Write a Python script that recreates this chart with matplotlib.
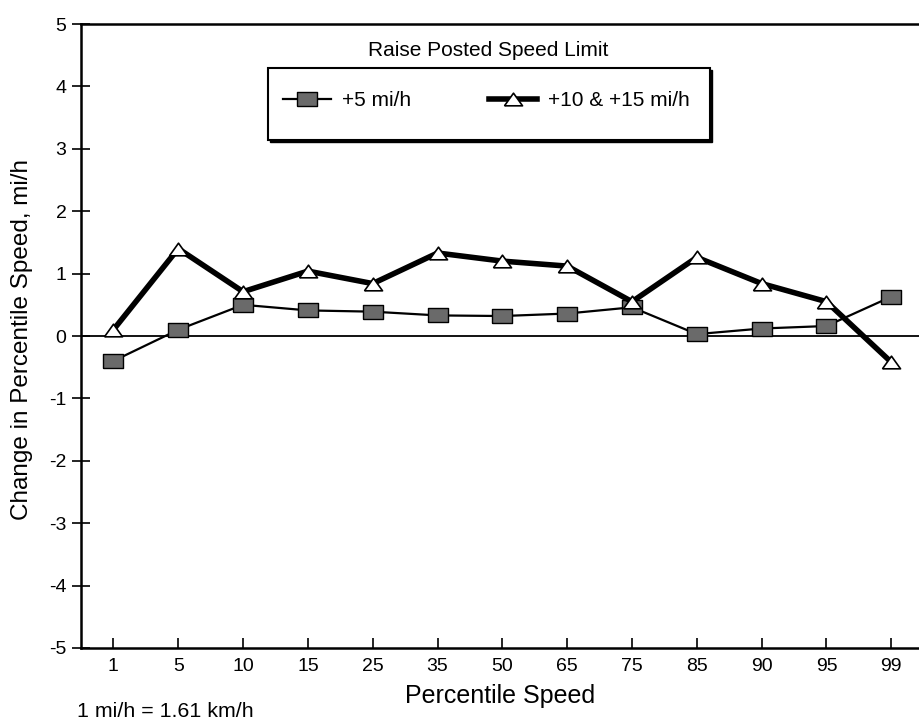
import numpy as np
import matplotlib
matplotlib.use("Agg")
import matplotlib.pyplot as plt
from matplotlib.patches import Rectangle

plt.rcParams['font.family'] = ['Liberation Sans', 'DejaVu Sans']

#------ data ------#
percentiles = ['1', '5', '10', '15', '25', '35', '50', '65', '75', '85', '90', '95', '99']
plus5 = [-0.40, 0.10, 0.50, 0.41, 0.39, 0.33, 0.32, 0.36, 0.46, 0.03, 0.12, 0.16, 0.63]
plus10_15 = [0.10, 1.40, 0.71, 1.04, 0.84, 1.33, 1.20, 1.12, 0.55, 1.26, 0.84, 0.55, -0.42]
yticks = [-5, -4, -3, -2, -1, 0, 1, 2, 3, 4, 5]

x = np.arange(len(percentiles))
W, H = 919, 721

fig = plt.figure(figsize=(9.19, 7.21), dpi=100)
ax = fig.add_axes([81 / W, 1 - 648 / H, 0.917, (648 - 24) / H])

# markers: flat rectangle and flat triangle
sq = [(-1, -0.72), (1, -0.72), (1, 0.72), (-1, 0.72), (-1, -0.72)]
tri = [(-1, -0.7), (1, -0.7), (0, 0.7), (-1, -0.7)]

ax.axhline(0, color='black', lw=1.3, zorder=1)
l1, = ax.plot(x, plus5, color='black', lw=1.6, marker=sq, markersize=15,
              markerfacecolor='#6a6a6a', markeredgecolor='black', markeredgewidth=1.0,
              zorder=3)
l2, = ax.plot(x, plus10_15, color='black', lw=4.0, marker=tri, markersize=13,
              markerfacecolor='white', markeredgecolor='black', markeredgewidth=1.2,
              zorder=4)

ax.set_xlim(-0.5, 12.5)
ax.set_ylim(-5, 5)
ax.set_xticks(x)
ax.set_xticklabels(percentiles, fontsize=14)
ax.set_yticks(yticks)
ax.set_yticklabels([str(v) for v in yticks], fontsize=14)
ax.tick_params(axis='x', direction='in', length=7, width=1.2, pad=7)
ax.tick_params(axis='y', direction='inout', length=13, width=1.2, pad=4)

for s in ['left', 'bottom', 'top']:
    ax.spines[s].set_linewidth(1.8)
ax.spines['right'].set_visible(False)

# axis titles
fig.text(500 / W, 1 - 703 / H, 'Percentile Speed', fontsize=18, ha='center', va='baseline')
fig.text(22 / W, 1 - 340 / H, 'Change in Percentile Speed, mi/h', fontsize=17.5,
         ha='center', va='center', rotation=90)

# legend box with title above it
box = Rectangle((268 / W, 1 - 140 / H), (710 - 268) / W, (140 - 68) / H,
                transform=fig.transFigure, facecolor='white', edgecolor='black',
                lw=1.5, zorder=5)
shadow = Rectangle((270 / W, 1 - 142 / H), (710 - 268) / W, (140 - 68) / H,
                   transform=fig.transFigure, facecolor='black', edgecolor='black',
                   lw=1.0, zorder=4.9)
fig.patches.extend([shadow, box])
fig.text(488 / W, 1 - 50 / H, 'Raise Posted Speed Limit', ha='center', va='center',
         fontsize=15)
leg = fig.legend([l1, l2], ['+5 mi/h', '+10 & +15 mi/h'], ncol=2, frameon=False,
                 loc='center left', bbox_to_anchor=(283 / W, 1 - 101 / H),
                 borderpad=0, borderaxespad=0,
                 fontsize=15, handlelength=2.3, columnspacing=3.7, handletextpad=0.55)
leg.set_zorder(6)

fig.text(77 / W, 1 - 717 / H, '1 mi/h = 1.61 km/h', fontsize=15.4, va='baseline')

fig.savefig('out.png', dpi=100)
